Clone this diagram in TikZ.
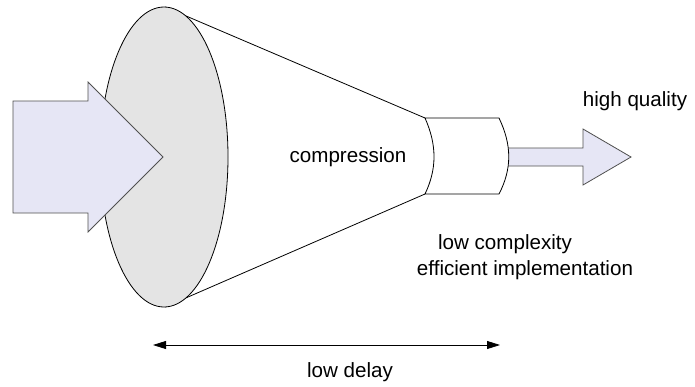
\documentclass[tikz,border=0pt]{standalone}
\usepackage{fontspec}
\setmainfont{Liberation Sans}
\usepackage{tikz}
\usetikzlibrary{arrows.meta,calc}
\definecolor{FlowLilac}{RGB}{230,230,245}
\definecolor{DiscGray}{RGB}{228,228,228}
\definecolor{EdgeGray}{RGB}{80,80,80}

\begin{document}
\begin{tikzpicture}[x=1pt,y=-1pt,>={Triangle[length=13pt,width=8pt]},
  font=\fontsize{20.6}{24}\selectfont,
  flow/.style={fill=FlowLilac,draw=EdgeGray,line width=.8pt,line join=miter}]
\useasboundingbox (0,0) rectangle (695,386);
% cone, disc and small cylinder
\draw[line width=.8pt] (165,7)--(425,118) (165,307)--(425,194);
\draw[fill=DiscGray,line width=.8pt] (164,157) ellipse[x radius=64,y radius=150];
\draw[flow] (13,101)--(88,101)--(88,82)--(163,157)--(88,232)--(88,213)--(13,213)--cycle;
\draw[flow] (500,148)--(583,148)--(583,129)--(631,157)--(583,185)--(583,166)--(500,166)--cycle;
\draw[fill=white,line width=.8pt] (425,118)--(499,118) .. controls (512,145) and (512,169) .. (499,194)
  --(425,194) .. controls (437,169) and (437,145) .. (425,118)--cycle;
\node (compr) at (348,157) {compression};
\node (quality) at (635,101) {high quality};
\node (cmplx) at (505,244) {low complexity};
\node (implem) at (525,270) {efficient implementation};
\coordinate (delayL) at (153,345);
\coordinate (delayR) at (500,345);
\draw[<->,line width=.8pt] (delayL)--(delayR);
\node (delay) at (350,372) {low delay};
\end{tikzpicture}
\end{document}
